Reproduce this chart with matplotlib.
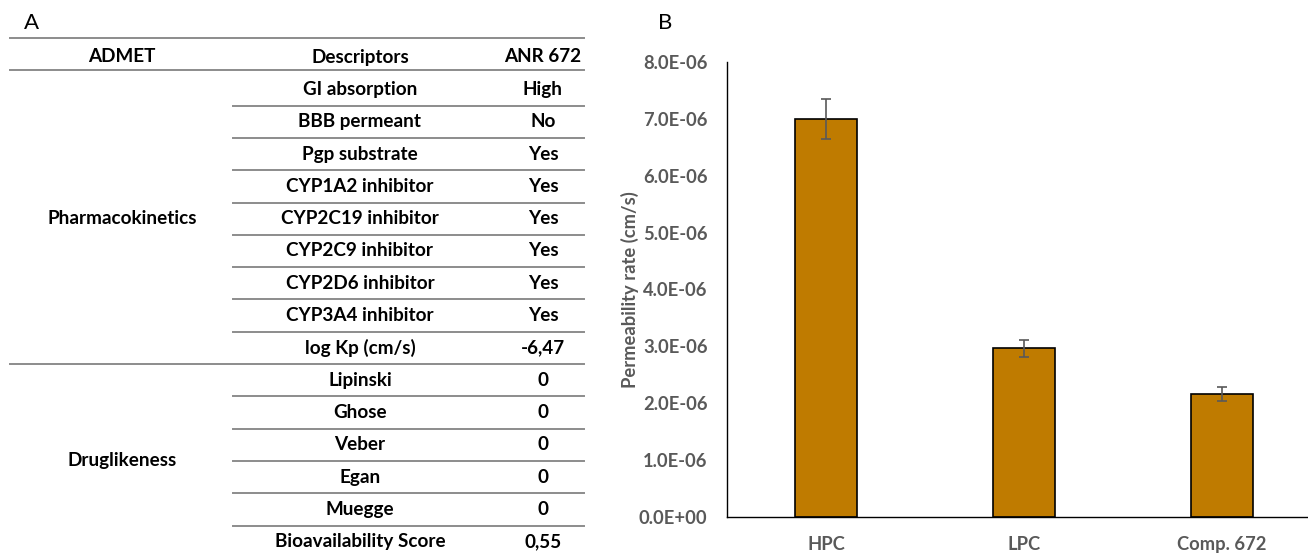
import matplotlib
matplotlib.use("Agg")
import matplotlib.pyplot as plt

# ---- Data ----
admet_groups = ["Pharmacokinetics", "Druglikeness"]
group_rows = [9, 6]
descriptors = ["GI absorption", "BBB permeant", "Pgp substrate", "CYP1A2 inhibitor",
               "CYP2C19 inhibitor", "CYP2C9 inhibitor", "CYP2D6 inhibitor",
               "CYP3A4 inhibitor", "log Kp (cm/s)", "Lipinski", "Ghose", "Veber",
               "Egan", "Muegge", "Bioavailability Score"]
anr672 = ["High", "No", "Yes", "Yes", "Yes", "Yes", "Yes", "Yes", "-6,47",
          "0", "0", "0", "0", "0", "0,55"]
headers = ["ADMET", "Descriptors", "ANR 672"]

categories = ["HPC", "LPC", "Comp. 672"]
perm = [7.0e-6, 2.97e-6, 2.16e-6]
perm_err = [0.35e-6, 0.15e-6, 0.12e-6]
yticks = [0, 1e-6, 2e-6, 3e-6, 4e-6, 5e-6, 6e-6, 7e-6, 8e-6]

FONT = "Lato"
W, H = 1308, 553
fig = plt.figure(figsize=(W / 100, H / 100), dpi=100)

# ---- Table (panel A) in pixel coordinates ----
tax = fig.add_axes([0, 0, 1, 1])
tax.set_xlim(0, W)
tax.set_ylim(H, 0)
tax.axis("off")
lc = "#8c8c8c"
lw = 1.4
fs = 13.6
x0, xd, x2 = 10, 233, 584
col_x = [122, 360, 543]
tax.text(24, 23, "A", fontsize=16, family=FONT, va="center", ha="left")
tax.text(658, 23, "B", fontsize=16, family=FONT, va="center", ha="left")
tax.plot([x0, x2], [38, 38], color=lc, lw=lw)
for cx, h in zip(col_x, headers):
    tax.text(cx, 57, h, fontsize=fs, family=FONT, weight="bold", ha="center", va="center")
tax.plot([x0, x2], [70, 70], color=lc, lw=lw)

row0 = 89.5
rh = 32.3
for i, (d, v) in enumerate(zip(descriptors, anr672)):
    y = row0 + i * rh
    tax.text(col_x[1], y, d, fontsize=fs, family=FONT, weight="bold", ha="center", va="center")
    tax.text(col_x[2], y, v, fontsize=fs, family=FONT, weight="bold", ha="center", va="center")
    if i < len(descriptors) - 1:
        yl = y + rh / 2
        if i == group_rows[0] - 1:
            tax.plot([x0, x2], [yl, yl], color=lc, lw=lw)
        else:
            tax.plot([xd, x2], [yl, yl], color=lc, lw=lw)

start = 0
for g, n in zip(admet_groups, group_rows):
    yc = row0 + (start + (n - 1) / 2) * rh
    tax.text(col_x[0], yc, g, fontsize=fs, family=FONT, weight="bold", ha="center", va="center")
    start += n

# ---- Bar chart (panel B) ----
left = 727 / W
bottom = (H - 517) / H
ax = fig.add_axes([left, bottom, 594 / W, 455 / H])
xs = list(range(len(categories)))
ax.bar(xs, perm, width=0.31, color="#BF7B00", edgecolor="black", linewidth=1.2, zorder=2)
ax.errorbar(xs, perm, yerr=perm_err, fmt="none", ecolor="#595959", elinewidth=1.2,
            capsize=3.5, capthick=1.2, zorder=3)
ax.set_xlim(-0.5, 2.5)
ax.set_ylim(0, 8e-6)
ax.set_yticks(yticks)
ax.set_yticklabels([f"{v:.1E}" if v else "0.0E+00" for v in yticks])
ax.set_xticks(xs)
ax.set_xticklabels(categories)
for sp in ["top", "right"]:
    ax.spines[sp].set_visible(False)
ax.spines["left"].set_color("black")
ax.spines["bottom"].set_color("black")
ax.spines["left"].set_linewidth(1.0)
ax.spines["bottom"].set_linewidth(1.0)
ax.tick_params(axis="both", length=0, labelcolor="#595959", labelsize=13.2)
ax.tick_params(axis="y", pad=14)
ax.tick_params(axis="x", pad=14)
for lab in ax.get_xticklabels() + ax.get_yticklabels():
    lab.set_family(FONT)
    lab.set_weight("bold")
ax.set_ylabel("Permeability rate (cm/s)", fontsize=13.2, family=FONT, weight="bold",
              color="#595959", labelpad=0)
ax.patch.set_alpha(0)

fig.savefig("out.png", dpi=100)
